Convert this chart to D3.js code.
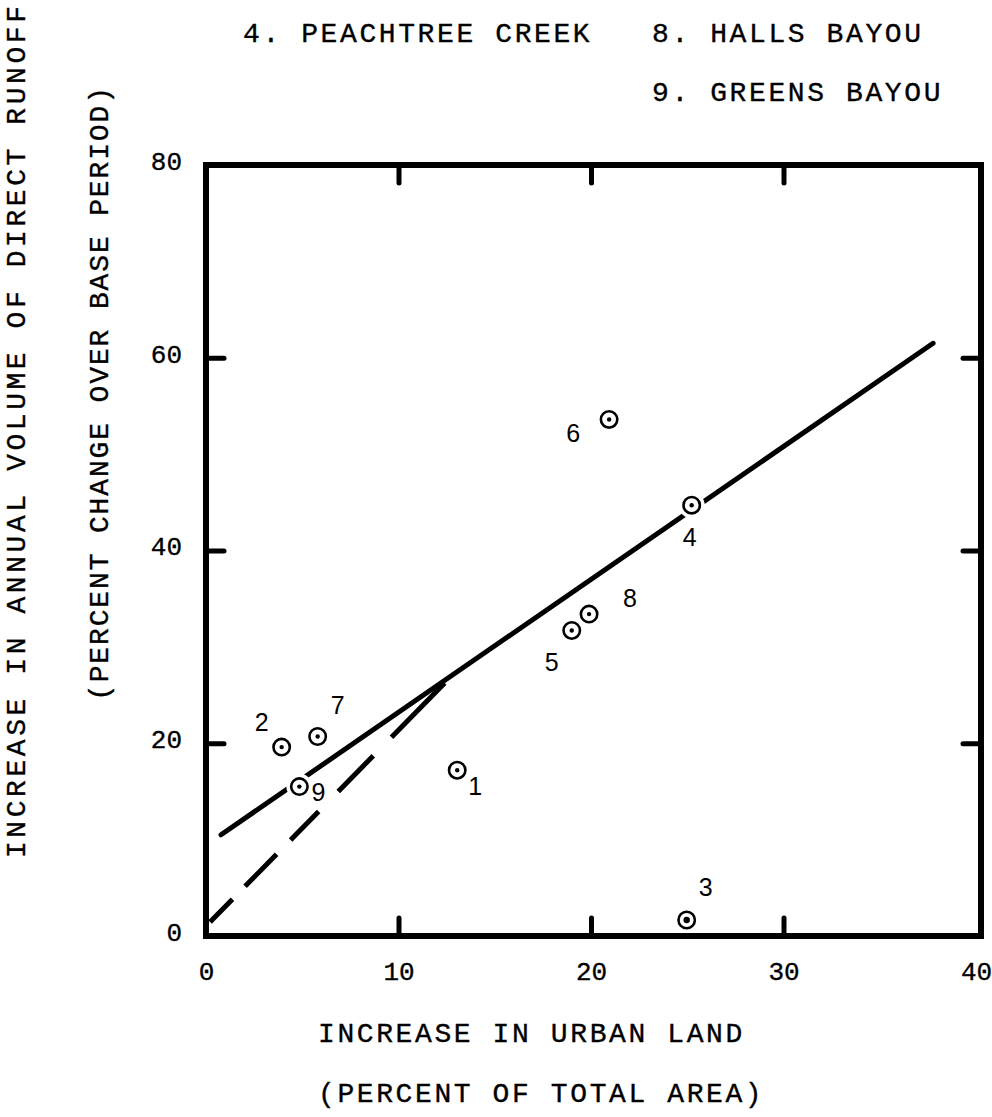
<!DOCTYPE html>
<html>
<head>
<meta charset="utf-8">
<script src="https://cdn.jsdelivr.net/npm/d3@7"></script>
<style>
  html, body { margin: 0; padding: 0; background: #fff; }
  svg { display: block; }
  .mono { font-family: "Liberation Mono", "Courier New", monospace; fill: #000; stroke: #000; stroke-width: 0.35px; }
  .site { font-family: "Liberation Sans", Arial, sans-serif; fill: #000; }
</style>
</head>
<body>
<div id="chart"></div>
<script>
// values
var siteIds = ["1", "2", "3", "4", "5", "6", "7", "8", "9"];
var urbanIncrease = [13.05, 3.93, 24.97, 25.23, 19.0, 20.94, 5.8, 19.9, 4.85];
var runoffIncrease = [17.2, 19.6, 1.66, 44.7, 31.7, 53.6, 20.7, 33.4, 15.5];

var fitX = [0.78, 37.77];
var fitY = [10.5, 61.5];
var dashX = [0.21, 12.4];
var dashY = [1.45, 26.25];

var xTicks = [0, 10, 20, 30, 40];
var yTicks = [0, 20, 40, 60, 80];
var innerTicks = [10, 20, 30];
var innerYTicks = [20, 40, 60];

var legendLines = ["4. PEACHTREE CREEK", "8. HALLS BAYOU", "9. GREENS BAYOU"];
var xTitle = ["INCREASE IN URBAN LAND", "(PERCENT OF TOTAL AREA)"];
var yTitle = ["INCREASE IN ANNUAL VOLUME OF DIRECT RUNOFF", "(PERCENT CHANGE OVER BASE PERIOD)"];

var W = 992, H = 1117,
    frame = {left: 206, right: 981, top: 165, bottom: 936},
    TICK = 18;

var svg = d3.select("#chart").append("svg")
    .attr("width", W)
    .attr("height", H);

var x = d3.scaleLinear().domain([0, 40]).range([206, 976]);
var y = d3.scaleLinear().domain([0, 80]).range([936, 165]);

// inward tick marks on all four sides
function marks(g){
    g.select(".domain").remove();
    g.selectAll("text").remove();
    g.selectAll("line").attr("stroke", "#000").attr("stroke-width", 5).attr("stroke-linecap", "round");
}
svg.append("g").attr("transform", "translate(0," + frame.bottom + ")")
    .call(d3.axisBottom(x).tickValues(innerTicks).tickSize(-TICK)).call(marks);
svg.append("g").attr("transform", "translate(0," + frame.top + ")")
    .call(d3.axisTop(x).tickValues(innerTicks).tickSize(-TICK)).call(marks);
svg.append("g").attr("transform", "translate(" + frame.left + ",0)")
    .call(d3.axisLeft(y).tickValues(innerYTicks).tickSize(-TICK)).call(marks);
svg.append("g").attr("transform", "translate(" + frame.right + ",0)")
    .call(d3.axisRight(y).tickValues(innerYTicks).tickSize(-TICK)).call(marks);

// tick labels
function labels(g){
    g.select(".domain").remove();
    g.selectAll("line").remove();
    g.selectAll("text").attr("class", "mono").attr("font-size", 26);
}
svg.append("g").attr("transform", "translate(0," + (frame.bottom + 26) + ")")
    .call(d3.axisBottom(x).tickValues(xTicks).tickSize(0).tickPadding(0).tickFormat(d3.format("d")))
    .call(labels);
svg.append("g").attr("transform", "translate(182,-4)")
    .call(d3.axisLeft(y).tickValues(yTicks).tickSize(0).tickPadding(0).tickFormat(d3.format("d")))
    .call(labels);

// fitted line (solid) and the line of equal change (dashed)
var line = d3.line().x(function(d){ return x(d[0]); }).y(function(d){ return y(d[1]); });

svg.append("path")
    .datum(d3.zip(dashX, dashY))
    .attr("d", line)
    .attr("fill", "none")
    .attr("stroke", "#000")
    .attr("stroke-width", 5)
    .attr("stroke-dasharray", "32,18,45,20,40,28,50,26,90");

svg.append("path")
    .datum(d3.zip(fitX, fitY))
    .attr("d", line)
    .attr("fill", "none")
    .attr("stroke", "#000")
    .attr("stroke-width", 5)
    .attr("stroke-linecap", "round");

// frame
svg.append("rect")
    .attr("x", frame.left).attr("y", frame.top)
    .attr("width", frame.right - frame.left)
    .attr("height", frame.bottom - frame.top)
    .attr("fill", "none")
    .attr("stroke", "#000")
    .attr("stroke-width", 6);

// site symbols
var sites = siteIds.map(function(id, i){
    return {id: id, ux: urbanIncrease[i], ry: runoffIncrease[i]};
});

// label offsets in px, by site
var nudge = {
    "1": [18, 16], "2": [-20, -25], "3": [19, -33], "4": [-2, 32], "5": [-20, 32],
    "6": [-36, 14], "7": [20, -32], "8": [41, -16], "9": [19, 5]
};

var pts = svg.append("g").selectAll("g")
    .data(sites)
  .enter().append("g")
    .attr("transform", function(d){ return "translate(" + x(d.ux) + "," + y(d.ry) + ")"; });

pts.append("circle")
    .attr("r", 13)
    .attr("fill", "#fff");
pts.append("circle")
    .attr("r", 8.2)
    .attr("fill", "#fff")
    .attr("stroke", "#000")
    .attr("stroke-width", 2.6);
pts.append("circle")
    .attr("r", function(d){ return d.id === "3" ? 3.2 : 2.2; })
    .attr("fill", "#000");

pts.append("text")
    .attr("class", "site")
    .attr("font-size", 25)
    .attr("text-anchor", "middle")
    .attr("dominant-baseline", "central")
    .attr("x", function(d){ return nudge[d.id][0]; })
    .attr("y", function(d){ return nudge[d.id][1]; })
    .attr("paint-order", "stroke")
    .attr("stroke", "#fff")
    .attr("stroke-width", 4)
    .text(function(d){ return d.id; });

// legend of named sites
var legendPos = [[243, 42], [652, 42], [652, 101]];
svg.append("g").selectAll("text")
    .data(legendLines)
  .enter().append("text")
    .attr("class", "mono")
    .attr("font-size", 28)
    .attr("letter-spacing", 2.6)
    .attr("x", function(d, i){ return legendPos[i][0]; })
    .attr("y", function(d, i){ return legendPos[i][1]; })
    .text(function(d){ return d; });

// axis titles
svg.append("g").selectAll("text")
    .data(xTitle)
  .enter().append("text")
    .attr("class", "mono")
    .attr("font-size", 28)
    .attr("letter-spacing", 2.6)
    .attr("x", 318)
    .attr("y", function(d, i){ return 1042 + i * 60; })
    .text(function(d){ return d; });

var yTitlePos = [[17, 432, 852], [100, 394, 614]];
svg.append("g").selectAll("text")
    .data(yTitle)
  .enter().append("text")
    .attr("class", "mono")
    .attr("font-size", 28)
    .attr("text-anchor", "middle")
    .attr("dominant-baseline", "central")
    .attr("textLength", function(d, i){ return yTitlePos[i][2]; })
    .attr("lengthAdjust", "spacing")
    .attr("transform", function(d, i){
        return "translate(" + yTitlePos[i][0] + "," + yTitlePos[i][1] + ") rotate(-90)";
    })
    .text(function(d){ return d; });
</script>
</body>
</html>
